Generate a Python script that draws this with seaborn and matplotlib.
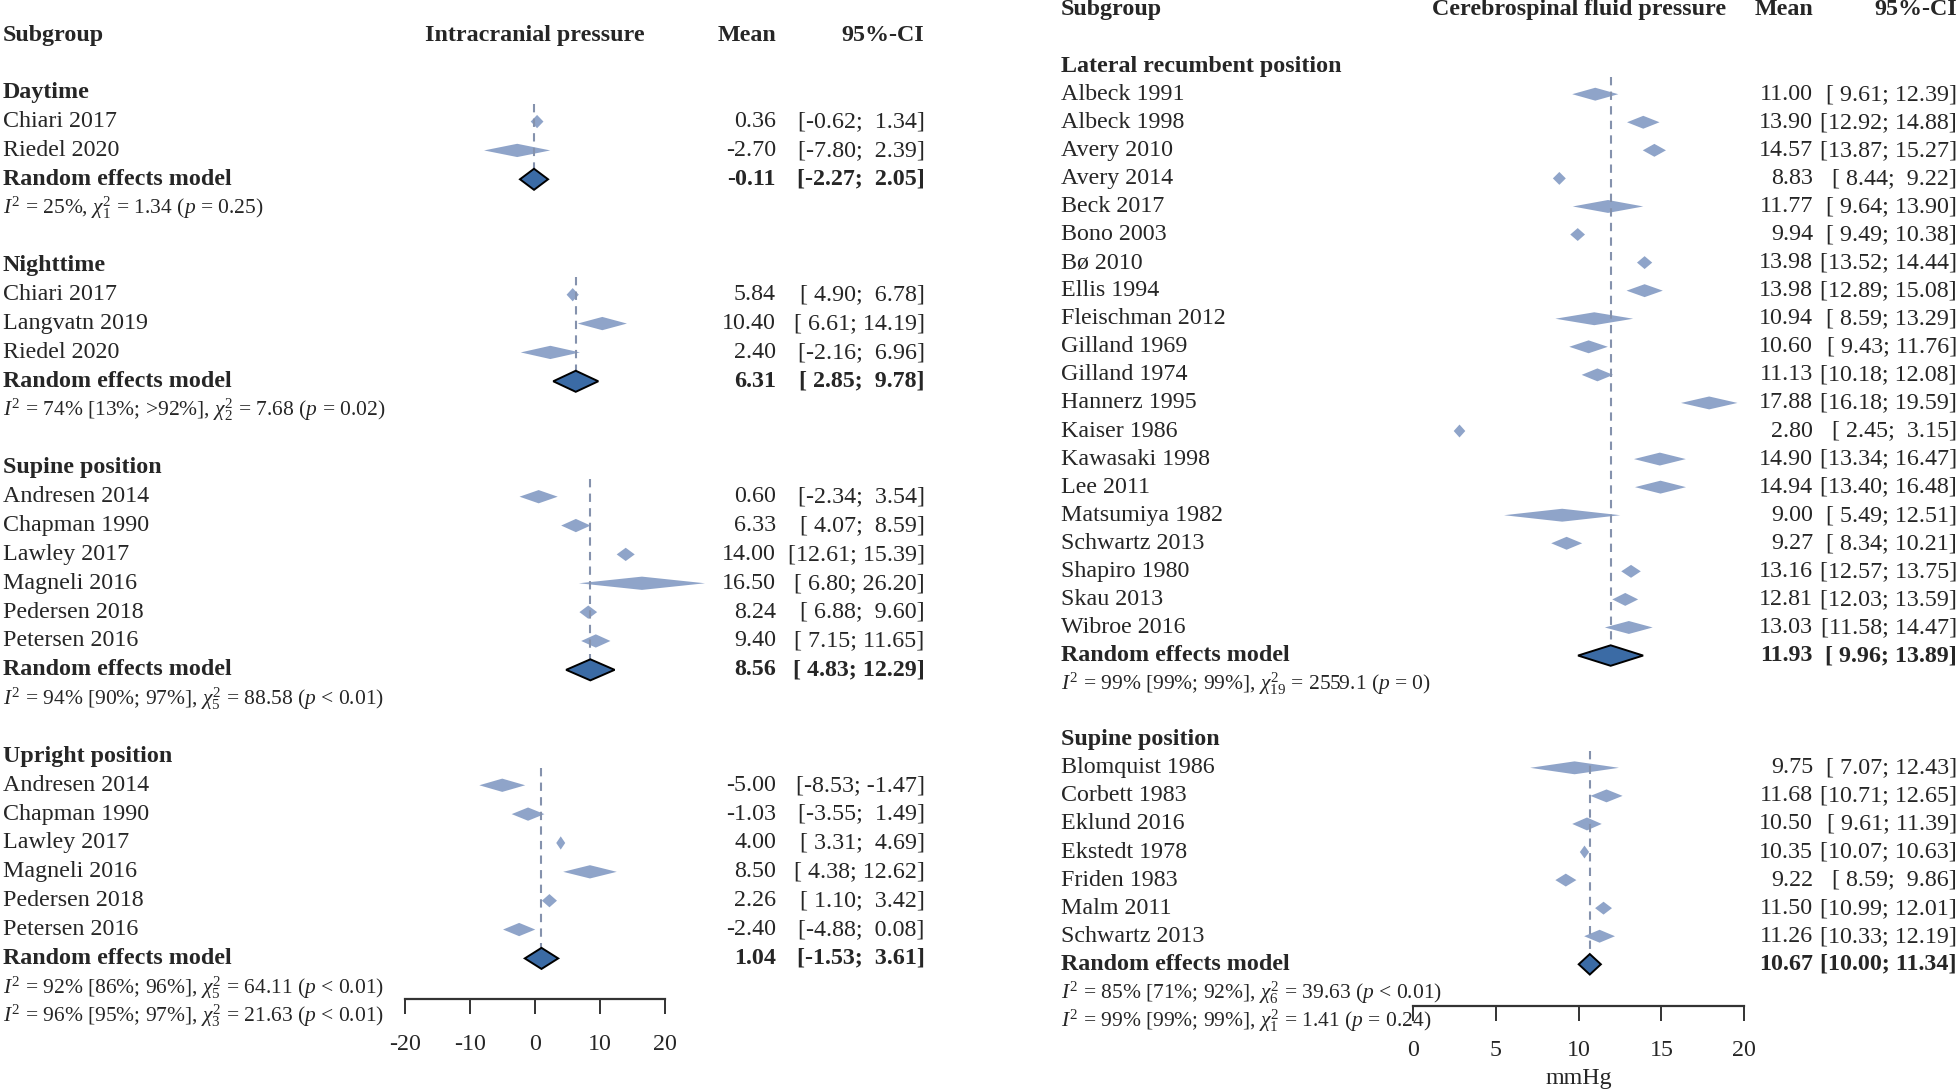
import numpy as np
import pandas as pd
import seaborn as sns
import matplotlib.pyplot as plt
from matplotlib import transforms

# Intracranial pressure (left panel)
icp_groups = ["Daytime", "Nighttime", "Supine position", "Upright position"]
icp_study = [
    ["Chiari 2017", "Riedel 2020"],
    ["Chiari 2017", "Langvatn 2019", "Riedel 2020"],
    ["Andresen 2014", "Chapman 1990", "Lawley 2017", "Magneli 2016", "Pedersen 2018", "Petersen 2016"],
    ["Andresen 2014", "Chapman 1990", "Lawley 2017", "Magneli 2016", "Pedersen 2018", "Petersen 2016"],
]
icp_mean = [[0.36, -2.70], [5.84, 10.40, 2.40],
            [0.60, 6.33, 14.00, 16.50, 8.24, 9.40],
            [-5.00, -1.03, 4.00, 8.50, 2.26, -2.40]]
icp_lower = [[-0.62, -7.80], [4.90, 6.61, -2.16],
             [-2.34, 4.07, 12.61, 6.80, 6.88, 7.15],
             [-8.53, -3.55, 3.31, 4.38, 1.10, -4.88]]
icp_upper = [[1.34, 2.39], [6.78, 14.19, 6.96],
             [3.54, 8.59, 15.39, 26.20, 9.60, 11.65],
             [-1.47, 1.49, 4.69, 12.62, 3.42, 0.08]]
icp_rem_mean = [-0.11, 6.31, 8.56, 1.04]
icp_rem_lower = [-2.27, 2.85, 4.83, -1.53]
icp_rem_upper = [2.05, 9.78, 12.29, 3.61]
icp_stats = [
    r"$I^2$ = 25%, $\chi^2_1$ = 1.34 ($p$ = 0.25)",
    r"$I^2$ = 74% [13%; >92%], $\chi^2_2$ = 7.68 ($p$ = 0.02)",
    r"$I^2$ = 94% [90%; 97%], $\chi^2_5$ = 88.58 ($p$ < 0.01)",
    r"$I^2$ = 92% [86%; 96%], $\chi^2_5$ = 64.11 ($p$ < 0.01)",
]
icp_overall = r"$I^2$ = 96% [95%; 97%], $\chi^2_3$ = 21.63 ($p$ < 0.01)"
icp_ticks = [-20, -10, 0, 10, 20]

# Cerebrospinal fluid pressure (right panel)
csf_groups = ["Lateral recumbent position", "Supine position"]
csf_study = [
    ["Albeck 1991", "Albeck 1998", "Avery 2010", "Avery 2014", "Beck 2017", "Bono 2003",
     "Bø 2010", "Ellis 1994", "Fleischman 2012", "Gilland 1969", "Gilland 1974",
     "Hannerz 1995", "Kaiser 1986", "Kawasaki 1998", "Lee 2011", "Matsumiya 1982",
     "Schwartz 2013", "Shapiro 1980", "Skau 2013", "Wibroe 2016"],
    ["Blomquist 1986", "Corbett 1983", "Eklund 2016", "Ekstedt 1978", "Friden 1983",
     "Malm 2011", "Schwartz 2013"],
]
csf_mean = [[11.00, 13.90, 14.57, 8.83, 11.77, 9.94, 13.98, 13.98, 10.94, 10.60, 11.13,
             17.88, 2.80, 14.90, 14.94, 9.00, 9.27, 13.16, 12.81, 13.03],
            [9.75, 11.68, 10.50, 10.35, 9.22, 11.50, 11.26]]
csf_lower = [[9.61, 12.92, 13.87, 8.44, 9.64, 9.49, 13.52, 12.89, 8.59, 9.43, 10.18,
              16.18, 2.45, 13.34, 13.40, 5.49, 8.34, 12.57, 12.03, 11.58],
             [7.07, 10.71, 9.61, 10.07, 8.59, 10.99, 10.33]]
csf_upper = [[12.39, 14.88, 15.27, 9.22, 13.90, 10.38, 14.44, 15.08, 13.29, 11.76, 12.08,
              19.59, 3.15, 16.47, 16.48, 12.51, 10.21, 13.75, 13.59, 14.47],
             [12.43, 12.65, 11.39, 10.63, 9.86, 12.01, 12.19]]
csf_rem_mean = [11.93, 10.67]
csf_rem_lower = [9.96, 10.00]
csf_rem_upper = [13.89, 11.34]
csf_stats = [
    r"$I^2$ = 99% [99%; 99%], $\chi^2_{19}$ = 2559.1 ($p$ = 0)",
    r"$I^2$ = 85% [71%; 92%], $\chi^2_6$ = 39.63 ($p$ < 0.01)",
]
csf_overall = r"$I^2$ = 99% [99%; 99%], $\chi^2_1$ = 1.41 ($p$ = 0.24)"
csf_ticks = [0, 5, 10, 15, 20]

sns.set_theme(style="white")
plt.rcParams["font.family"] = ["Liberation Serif", "DejaVu Serif"]
plt.rcParams["mathtext.fontset"] = "custom"
plt.rcParams["mathtext.rm"] = "Liberation Serif"
plt.rcParams["mathtext.it"] = "Liberation Serif:italic"
plt.rcParams["axes.unicode_minus"] = False

W, H = 1959, 1092
FS = 17.3
FS_STAT = 15.5
STUDY_COL = "#8FA4C9"
REM_COL = "#3B6BA5"
LINE_COL = "#8592AD"

fig = plt.figure(figsize=(W / 100, H / 100), dpi=100)


def build_rows(groups, study, mean, lower, upper, rm, rl, ru, stats):
    recs = []
    r = 2
    for g in range(len(groups)):
        recs.append(dict(row=r, kind="group", label=groups[g]))
        r += 1
        for s, m, lo, hi in zip(study[g], mean[g], lower[g], upper[g]):
            recs.append(dict(row=r, kind="study", label=s, mean=m, lo=lo, hi=hi, grp=g))
            r += 1
        recs.append(dict(row=r, kind="rem", label="Random effects model",
                         mean=rm[g], lo=rl[g], hi=ru[g], grp=g))
        r += 1
        recs.append(dict(row=r, kind="stat", label=stats[g]))
        r += 2
    return pd.DataFrame(recs), r - 2


def draw_panel(ax, df, last_row, overall, title, ticks, xlim, ylim,
               x_label, x_mean, x_ci, spine_y, xlabel=None):
    ax.set_xlim(*xlim)
    ax.set_ylim(*ylim)
    ax.patch.set_alpha(0)
    tr = transforms.blended_transform_factory(fig.transFigure, ax.transData)
    mid = np.mean([ticks[0], ticks[-1]])

    # column headers
    ax.text(x_label / W, 0, "Subgroup", transform=tr, fontsize=FS, weight="bold", va="center")
    ax.text(mid, 0, title, fontsize=FS, weight="bold", va="center", ha="center")
    ax.text(x_mean / W, 0, "Mean", transform=tr, fontsize=FS, weight="bold", va="center", ha="right")
    ax.text(x_ci / W, 0, "95%-CI", transform=tr, fontsize=FS, weight="bold", va="center", ha="right")

    for _, d in df.iterrows():
        r = d["row"]
        if d["kind"] == "group":
            ax.text(x_label / W, r, d["label"], transform=tr, fontsize=FS, weight="bold", va="center")
        elif d["kind"] == "stat":
            ax.text(x_label / W, r, d["label"], transform=tr, fontsize=FS_STAT, va="center")
        else:
            bold = d["kind"] == "rem"
            wt = "bold" if bold else "normal"
            h = 0.73 if bold else 0.46
            ax.fill([d["lo"], d["mean"], d["hi"], d["mean"]],
                    [r, r - h / 2, r, r + h / 2],
                    facecolor=REM_COL if bold else STUDY_COL,
                    edgecolor="black" if bold else "none", lw=1.4, zorder=2 if bold else 1)
            ax.text(x_label / W, r, d["label"], transform=tr, fontsize=FS, weight=wt, va="center")
            ax.text(x_mean / W, r, f"{d['mean']:.2f}", transform=tr, fontsize=FS,
                    weight=wt, va="center", ha="right")
            ax.text(x_ci / W, r, f"[{d['lo']:5.2f}; {d['hi']:5.2f}]", transform=tr,
                    fontsize=FS, weight=wt, va="center", ha="right")

    # dashed line at each subgroup estimate
    for g, sub in df[df["kind"].isin(["study", "rem"])].groupby("grp"):
        rem = sub[sub["kind"] == "rem"].iloc[0]
        ax.vlines(rem["mean"], sub["row"].min() - 0.6, rem["row"] - 0.36,
                  colors=LINE_COL, linestyles=(0, (4, 3)), lw=1.5, zorder=1.5)

    ax.text(x_label / W, last_row + 1, overall, transform=tr, fontsize=FS_STAT, va="center")

    # x axis
    for s in ["top", "left", "right"]:
        ax.spines[s].set_visible(False)
    ax.spines["bottom"].set_position(("data", spine_y))
    ax.spines["bottom"].set_bounds(ticks[0], ticks[-1])
    ax.spines["bottom"].set_color("#333333")
    ax.spines["bottom"].set_linewidth(1.6)
    ax.set_xticks(ticks)
    ax.set_xticklabels([str(t) for t in ticks])
    ax.set_yticks([])
    ax.tick_params(axis="x", direction="out", length=10.8, width=1.4, color="#333333",
                   pad=14, labelsize=FS, bottom=True)
    if xlabel:
        ax.set_xlabel(xlabel, fontsize=FS, labelpad=5)
        ax.xaxis.label.set_x((mid - xlim[0]) / (xlim[1] - xlim[0]))


# left panel
icp_df, icp_last = build_rows(icp_groups, icp_study, icp_mean, icp_lower, icp_upper,
                              icp_rem_mean, icp_rem_lower, icp_rem_upper, icp_stats)
ax1 = fig.add_axes([0, 0, 960 / W, 1])
draw_panel(ax1, icp_df, icp_last, icp_overall, "Intracranial pressure", icp_ticks,
           (-82.3, 65.45), (36.63, -1.213), 3, 776, 924.5, 33.42)

# right panel
csf_df, csf_last = build_rows(csf_groups, csf_study, csf_mean, csf_lower, csf_upper,
                              csf_rem_mean, csf_rem_lower, csf_rem_upper, csf_stats)
ax2 = fig.add_axes([960 / W, 0, 1 - 960 / W, 1])
draw_panel(ax2, csf_df, csf_last, csf_overall, "Cerebrospinal fluid pressure", csf_ticks,
           (-27.37, 32.97), (38.55, -0.356), 1061, 1813, 1957, 35.47, xlabel="mmHg")

fig.savefig("out.png", dpi=100)
